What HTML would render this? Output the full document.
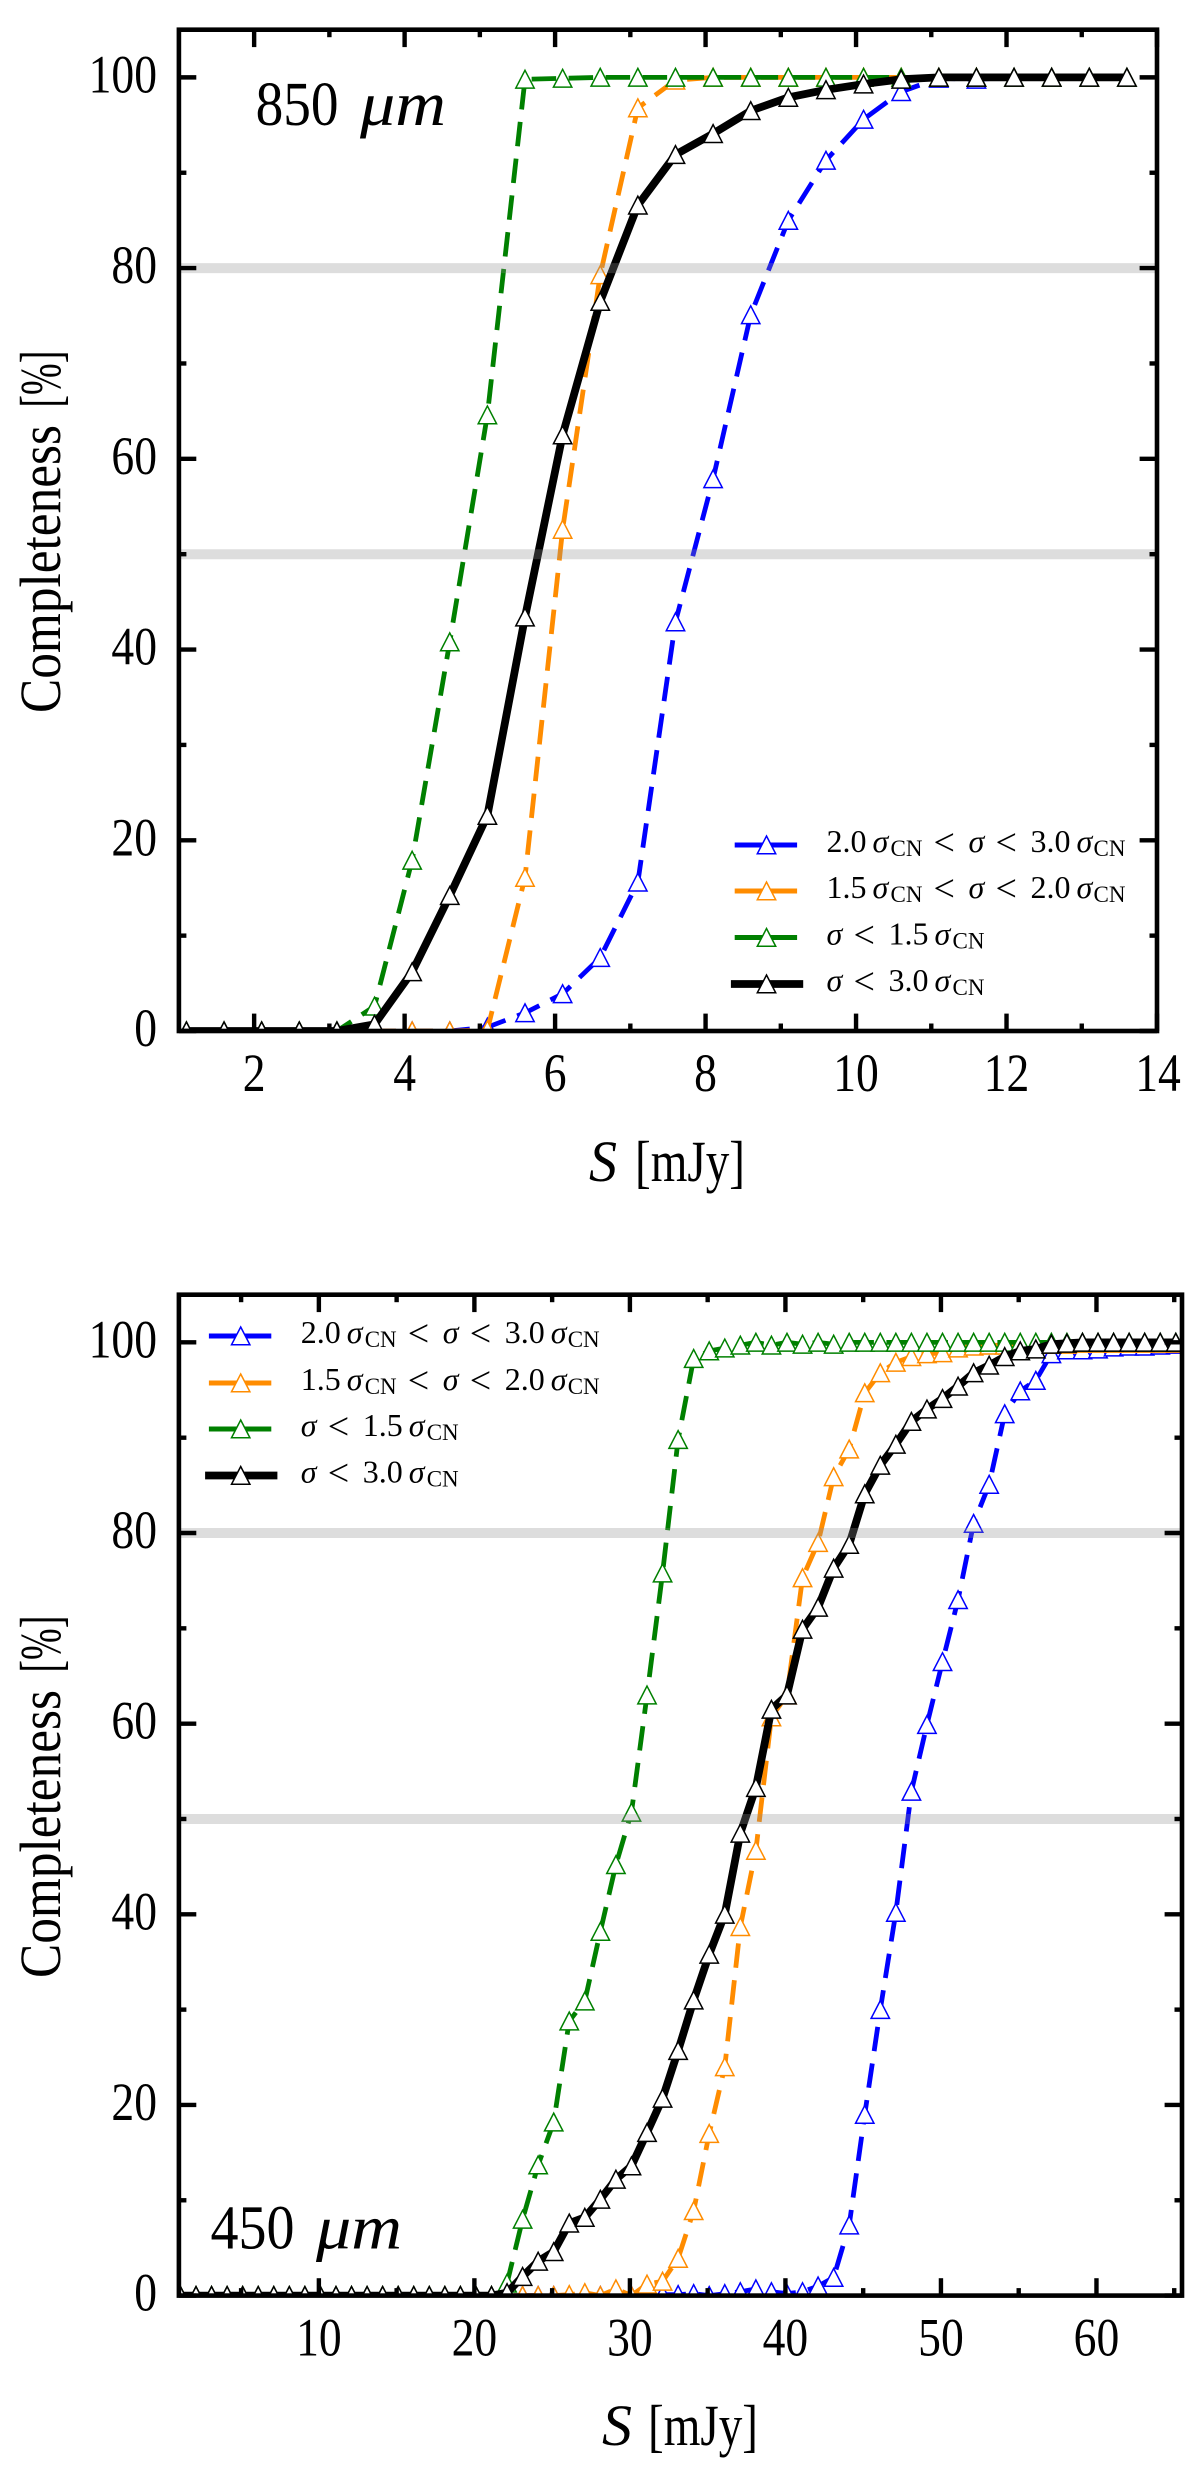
<!DOCTYPE html>
<html lang="en">
<head>
<meta charset="utf-8">
<title>Completeness curves at 850 and 450 micron</title>
<style>
html,body{margin:0;padding:0;background:#fff;}
svg{display:block;}
text{font-family:"Liberation Serif",serif;fill:#000;}
.it{font-style:italic;}
.lg{font-size:32px;}
.sub{font-size:23px;}
.lt{font-size:38px;}
</style>
</head>
<body>
<svg id="fig" xmlns="http://www.w3.org/2000/svg" width="1200" height="2471" viewBox="0 0 1200 2471">
  <defs>
    <clipPath id="clip-850"><rect x="178.9" y="29.7" width="978.1" height="1001.3"/></clipPath>
    <clipPath id="clip-450"><rect x="178.9" y="1294.7" width="1003.1" height="1000.9"/></clipPath>
  </defs>
  <rect x="0" y="0" width="1200" height="2471" fill="#fff"/>
  <g id="panel-850"></g>
  <g id="panel-450"></g>

  <!-- axis titles and annotations -->
  <text transform="translate(60,713) rotate(-90)" font-size="58" textLength="288" lengthAdjust="spacingAndGlyphs">Completeness</text>
  <text transform="translate(60,407.6) rotate(-90)" font-size="58" textLength="57" lengthAdjust="spacingAndGlyphs">[%]</text>
  <text x="589" y="1181" font-size="58" class="it" textLength="28" lengthAdjust="spacingAndGlyphs">S</text>
  <text x="635" y="1181" font-size="58" textLength="110" lengthAdjust="spacingAndGlyphs">[mJy]</text>
  <text x="255.6" y="125" font-size="62" textLength="83" lengthAdjust="spacingAndGlyphs">850</text>
  <text x="360" y="125" font-size="62" class="it" textLength="86" lengthAdjust="spacingAndGlyphs">μm</text>

  <text transform="translate(60,1978) rotate(-90)" font-size="58" textLength="288" lengthAdjust="spacingAndGlyphs">Completeness</text>
  <text transform="translate(60,1672.6) rotate(-90)" font-size="58" textLength="57" lengthAdjust="spacingAndGlyphs">[%]</text>
  <text x="602" y="2445" font-size="58" class="it" textLength="30" lengthAdjust="spacingAndGlyphs">S</text>
  <text x="648" y="2445" font-size="58" textLength="110" lengthAdjust="spacingAndGlyphs">[mJy]</text>
  <text x="210.5" y="2248.7" font-size="62" textLength="84" lengthAdjust="spacingAndGlyphs">450</text>
  <text x="316" y="2248.7" font-size="62" class="it" textLength="86" lengthAdjust="spacingAndGlyphs">μm</text>

  <!-- legend 850 -->
  <g>
    <g transform="translate(766.5,845)">
      <line x1="-31.8" x2="30.6" y1="0" y2="0" stroke="#0000ff" stroke-width="5"/>
      <polygon points="0,-9 9.2,8.8 -9.2,8.8" fill="#fff" stroke="#0000ff" stroke-width="1.5"/>
      <text class="lg" y="7"><tspan x="60">2.0 </tspan><tspan x="106" class="it">σ</tspan><tspan x="124" y="11" class="sub">CN </tspan><tspan x="167" y="10" class="lt">&lt; </tspan><tspan x="202" y="7" class="it">σ</tspan><tspan x="229" y="10" class="lt">&lt; </tspan><tspan x="264" y="7">3.0 </tspan><tspan x="310" class="it">σ</tspan><tspan x="327" y="11" class="sub">CN</tspan></text>
    </g>
    <g transform="translate(766.5,891)">
      <line x1="-31.8" x2="30.6" y1="0" y2="0" stroke="#ff8c00" stroke-width="5"/>
      <polygon points="0,-9 9.2,8.8 -9.2,8.8" fill="#fff" stroke="#ff8c00" stroke-width="1.5"/>
      <text class="lg" y="7"><tspan x="60">1.5 </tspan><tspan x="106" class="it">σ</tspan><tspan x="124" y="11" class="sub">CN </tspan><tspan x="167" y="10" class="lt">&lt; </tspan><tspan x="202" y="7" class="it">σ</tspan><tspan x="229" y="10" class="lt">&lt; </tspan><tspan x="264" y="7">2.0 </tspan><tspan x="310" class="it">σ</tspan><tspan x="327" y="11" class="sub">CN</tspan></text>
    </g>
    <g transform="translate(766.5,937.5)">
      <line x1="-31.8" x2="30.6" y1="0" y2="0" stroke="#008000" stroke-width="5"/>
      <polygon points="0,-9 9.2,8.8 -9.2,8.8" fill="#fff" stroke="#008000" stroke-width="1.5"/>
      <text class="lg" y="7"><tspan x="60" class="it">σ </tspan><tspan x="87" y="10" class="lt">&lt; </tspan><tspan x="122" y="7">1.5 </tspan><tspan x="168" class="it">σ</tspan><tspan x="186" y="11" class="sub">CN</tspan></text>
    </g>
    <g transform="translate(766.5,984)">
      <line x1="-35.6" x2="36.7" y1="0" y2="0" stroke="#000" stroke-width="7.8"/>
      <polygon points="0,-9 9.2,8.8 -9.2,8.8" fill="#fff" stroke="#000" stroke-width="1.5"/>
      <text class="lg" y="7"><tspan x="60" class="it">σ </tspan><tspan x="87" y="10" class="lt">&lt; </tspan><tspan x="122" y="7">3.0 </tspan><tspan x="168" class="it">σ</tspan><tspan x="186" y="11" class="sub">CN</tspan></text>
    </g>
  </g>

  <!-- legend 450 -->
  <g>
    <g transform="translate(240.7,1336)">
      <line x1="-31.8" x2="30.6" y1="0" y2="0" stroke="#0000ff" stroke-width="5"/>
      <polygon points="0,-9 9.2,8.8 -9.2,8.8" fill="#fff" stroke="#0000ff" stroke-width="1.5"/>
      <text class="lg" y="7"><tspan x="60">2.0 </tspan><tspan x="106" class="it">σ</tspan><tspan x="124" y="11" class="sub">CN </tspan><tspan x="167" y="10" class="lt">&lt; </tspan><tspan x="202" y="7" class="it">σ</tspan><tspan x="229" y="10" class="lt">&lt; </tspan><tspan x="264" y="7">3.0 </tspan><tspan x="310" class="it">σ</tspan><tspan x="327" y="11" class="sub">CN</tspan></text>
    </g>
    <g transform="translate(240.7,1383)">
      <line x1="-31.8" x2="30.6" y1="0" y2="0" stroke="#ff8c00" stroke-width="5"/>
      <polygon points="0,-9 9.2,8.8 -9.2,8.8" fill="#fff" stroke="#ff8c00" stroke-width="1.5"/>
      <text class="lg" y="7"><tspan x="60">1.5 </tspan><tspan x="106" class="it">σ</tspan><tspan x="124" y="11" class="sub">CN </tspan><tspan x="167" y="10" class="lt">&lt; </tspan><tspan x="202" y="7" class="it">σ</tspan><tspan x="229" y="10" class="lt">&lt; </tspan><tspan x="264" y="7">2.0 </tspan><tspan x="310" class="it">σ</tspan><tspan x="327" y="11" class="sub">CN</tspan></text>
    </g>
    <g transform="translate(240.7,1429)">
      <line x1="-31.8" x2="30.6" y1="0" y2="0" stroke="#008000" stroke-width="5"/>
      <polygon points="0,-9 9.2,8.8 -9.2,8.8" fill="#fff" stroke="#008000" stroke-width="1.5"/>
      <text class="lg" y="7"><tspan x="60" class="it">σ </tspan><tspan x="87" y="10" class="lt">&lt; </tspan><tspan x="122" y="7">1.5 </tspan><tspan x="168" class="it">σ</tspan><tspan x="186" y="11" class="sub">CN</tspan></text>
    </g>
    <g transform="translate(240.7,1475.5)">
      <line x1="-35.6" x2="36.7" y1="0" y2="0" stroke="#000" stroke-width="7.8"/>
      <polygon points="0,-9 9.2,8.8 -9.2,8.8" fill="#fff" stroke="#000" stroke-width="1.5"/>
      <text class="lg" y="7"><tspan x="60" class="it">σ </tspan><tspan x="87" y="10" class="lt">&lt; </tspan><tspan x="122" y="7">3.0 </tspan><tspan x="168" class="it">σ</tspan><tspan x="186" y="11" class="sub">CN</tspan></text>
    </g>
  </g>
</svg>

<script>
// ---- 850 micron data ----
const flux850 = [1.1,1.6,2.1,2.6,3.1,3.6,4.1,4.6,5.1,5.6,6.1,6.6,7.1,7.6,8.1,8.6,9.1,9.6,10.1,10.6,11.1,11.6,12.1,12.6,13.1,13.6];
const midNoise850 = [0,0,0,0,0,0,0,0,0.4,1.9,3.9,7.7,15.6,42.9,57.9,75.1,85.0,91.3,95.6,98.5,99.9,99.8,100,100,100,100];
const lowMidNoise850 = [0,0,0,0,0,0,0,0,0.1,16.1,52.6,79.3,96.8,99.7,100,100,100,100,100,100,100,100,100,100,100,100];
const lowNoise850 = [0,0,0,0,0,2.6,17.9,40.8,64.6,99.8,99.9,100,100,100,100,100,100,100,100,100,100,100,100,100,100,100];
const allNoise850 = [0,0,0,0,0,0.7,6.2,14.2,22.6,43.4,62.5,76.5,86.6,91.9,94.1,96.5,97.9,98.7,99.3,99.8,100,100,100,100,100,100];
const xMajor850 = [2,4,6,8,10,12,14];
const xMinor850 = [3,5,7,9,11,13];

// ---- 450 micron data ----
const flux450 = [1.1,2.1,3.1,4.1,5.1,6.1,7.1,8.1,9.1,10.1,11.1,12.1,13.1,14.1,15.1,16.1,17.1,18.1,19.1,20.1,21.1,22.1,23.1,24.1,25.1,26.1,27.1,28.1,29.1,30.1,31.1,32.1,33.1,34.1,35.1,36.1,37.1,38.1,39.1,40.1,41.1,42.1,43.1,44.1,45.1,46.1,47.1,48.1,49.1,50.1,51.1,52.1,53.1,54.1,55.1,56.1,57.1,58.1,59.1,60.1,61.1,62.1,63.1,64.1,65.1];
const midNoise450 = [0,0,0,0,0,0,0,0,0,0,0,0,0,0,0,0,0,0,0,0,0,0,0,0,0,0,0,0,0,0,0,0.1,0.1,0.2,0,0.2,0.4,0.7,0.4,0.2,0.4,1.0,1.9,7.4,19.0,30.0,40.2,52.9,59.9,66.5,73.0,81.0,85.1,92.5,94.9,96.0,98.8,99.2,99.2,99.3,99.5,99.6,99.6,99.7,99.8];
const lowMidNoise450 = [0,0,0,0,0,0,0,0,0,0,0,0,0,0,0,0,0,0,0,0,0,0,0,0,0,0.1,0.3,0,0.7,0,1.2,1.5,3.9,8.9,17.0,24.0,38.7,46.7,60.7,63.0,75.3,79.0,85.9,88.8,94.7,96.8,97.9,98.5,98.8,98.9,99.4,99.6,99.7,99.7,99.8,99.8,99.8,99.8,99.9,99.9,99.9,99.9,99.9,99.9,99.9];
const lowNoise450 = [0,0,0,0,0,0,0,0,0,0,0,0,0,0,0,0,0,0,0,0,0,1.3,8.0,13.7,18.2,28.8,30.9,38.2,45.2,50.7,63.0,75.8,89.8,98.3,99.1,99.4,99.7,100,99.7,100,99.8,100,99.8,100,100,100,100,100,100,100,100,100,100,100,100,100,100,100,100,100,100,100,100,100,100];
const allNoise450 = [0,0,0,0,0,0,0,0,0,0,0,0,0,0,0,0,0,0,0,0,0,0.3,2.0,3.6,4.6,7.6,8.2,10.1,12.2,13.6,17.1,20.7,25.7,31.0,35.8,40.0,48.5,53.3,61.5,63.0,69.9,72.2,76.3,78.8,84.1,87.1,89.3,91.7,93.0,94.1,95.4,96.8,97.6,98.5,99.1,99.3,99.8,99.9,100,100,100,100,100,100,100];
const xMajor450 = [10,20,30,40,50,60];
const xMinor450 = [5,15,25,35,45,55,65];

// ---- shared axis values ----
const yMajor = [0,20,40,60,80,100];
const yMinor = [10,30,50,70,90];
const referenceLevels = [50,80];
const seriesNames = ['mid-noise','low-mid-noise','low-noise','all-noise'];
const seriesColors = ['#0000ff','#ff8c00','#008000','#000000'];
const seriesWidths = [4.8,4.8,4.8,7.8];
const seriesDashes = ['24.5 12.5','24.5 12.5','24.5 12.5','none'];
const seriesDashOffsets = [0,0,4.7,0];

const SVG_NS = 'http://www.w3.org/2000/svg';

function axisX(panel, v) {
  return panel.left + (v - panel.xMin) / (panel.xMax - panel.xMin) * (panel.right - panel.left);
}
function axisY(panel, v) {
  return panel.bottom - (v - panel.yMin) / (panel.yMax - panel.yMin) * (panel.bottom - panel.top);
}

function drawTick(group, name, x1, y1, x2, y2) {
  const el = document.createElementNS(SVG_NS, 'line');
  
  
  el.setAttribute('x1', x1);
  el.setAttribute('y1', y1);
  el.setAttribute('x2', x2);
  el.setAttribute('y2', y2);
  el.setAttribute('stroke', '#000');
  el.setAttribute('stroke-width', 4.4);
  group.appendChild(el);
}

function drawTickLabel(group, name, text, x, y, anchor) {
  const el = document.createElementNS(SVG_NS, 'text');
  
  
  el.setAttribute('x', x);
  el.setAttribute('y', y);
  el.setAttribute('font-size', 54);
  el.setAttribute('text-anchor', anchor);
  el.setAttribute('textLength', String(text).length * 22.8);
  el.setAttribute('lengthAdjust', 'spacingAndGlyphs');
  el.textContent = text;
  group.appendChild(el);
}

function drawSeries(group, panel, name, xs, ys, color, width, dash, dashOffset) {
  const pts = xs.map((x, i) => axisX(panel, x).toFixed(2) + ',' + axisY(panel, ys[i]).toFixed(2));
  const line = document.createElementNS(SVG_NS, 'polyline');
  
  
  line.setAttribute('points', pts.join(' '));
  line.setAttribute('fill', 'none');
  line.setAttribute('stroke', color);
  line.setAttribute('stroke-width', width);
  line.setAttribute('stroke-linejoin', 'miter');
  if (dash !== 'none') {
    line.setAttribute('stroke-dasharray', dash);
    line.setAttribute('stroke-dashoffset', dashOffset);
  }
  group.appendChild(line);
  xs.forEach((x, i) => {
    const px = axisX(panel, x);
    const py = axisY(panel, ys[i]);
    const tri = document.createElementNS(SVG_NS, 'polygon');
    
    
    tri.setAttribute('points', px + ',' + (py - 9) + ' ' + (px + 9.2) + ',' + (py + 8.8) + ' ' + (px - 9.2) + ',' + (py + 8.8));
    tri.setAttribute('fill', '#fff');
    tri.setAttribute('stroke', color);
    tri.setAttribute('stroke-width', 1.5);
    group.appendChild(tri);
  });
}

function drawPanel(panel) {
  const root = document.getElementById(panel.id);

  const plot = document.createElementNS(SVG_NS, 'g');
  
  
  plot.setAttribute('clip-path', 'url(#' + panel.clip + ')');
  root.appendChild(plot);

  panel.series.forEach((ys, i) => {
    drawSeries(plot, panel, seriesNames[i], panel.xs, ys, seriesColors[i], seriesWidths[i], seriesDashes[i], seriesDashOffsets[i]);
  });

  referenceLevels.forEach(level => {
    const band = document.createElementNS(SVG_NS, 'line');
    
    
    band.setAttribute('x1', panel.left);
    band.setAttribute('x2', panel.right);
    band.setAttribute('y1', axisY(panel, level));
    band.setAttribute('y2', axisY(panel, level));
    band.setAttribute('stroke', '#8e8e8e');
    band.setAttribute('stroke-opacity', 0.3);
    band.setAttribute('stroke-width', 10);
    plot.appendChild(band);
  });

  const axes = document.createElementNS(SVG_NS, 'g');
  
  
  root.appendChild(axes);

  panel.xMajor.forEach(v => {
    const x = axisX(panel, v);
    drawTick(axes, 'x-major-tick', x, panel.bottom, x, panel.bottom - 17.4);
    drawTick(axes, 'x-major-tick-top', x, panel.top, x, panel.top + 17.4);
    const labelX = v === 14 ? x + 1 : x;
    drawTickLabel(axes, 'x-tick-label', v, labelX, panel.bottom + 60, 'middle');
  });
  panel.xMinor.forEach(v => {
    const x = axisX(panel, v);
    drawTick(axes, 'x-minor-tick', x, panel.bottom, x, panel.bottom - 7.5);
    drawTick(axes, 'x-minor-tick-top', x, panel.top, x, panel.top + 7.5);
  });
  yMajor.forEach(v => {
    const y = axisY(panel, v);
    drawTick(axes, 'y-major-tick', panel.left, y, panel.left + 17.4, y);
    drawTick(axes, 'y-major-tick-right', panel.right, y, panel.right - 17.4, y);
    drawTickLabel(axes, 'y-tick-label', v, 157, y + 15, 'end');
  });
  yMinor.forEach(v => {
    const y = axisY(panel, v);
    drawTick(axes, 'y-minor-tick', panel.left, y, panel.left + 7.5, y);
    drawTick(axes, 'y-minor-tick-right', panel.right, y, panel.right - 7.5, y);
  });

  const frame = document.createElementNS(SVG_NS, 'rect');
  
  
  frame.setAttribute('x', panel.left);
  frame.setAttribute('y', panel.top);
  frame.setAttribute('width', panel.right - panel.left);
  frame.setAttribute('height', panel.bottom - panel.top);
  frame.setAttribute('fill', 'none');
  frame.setAttribute('stroke', '#000');
  frame.setAttribute('stroke-width', 4.6);
  axes.appendChild(frame);
}

drawPanel({
  id: 'panel-850', clip: 'clip-850',
  left: 178.9, right: 1157, top: 29.7, bottom: 1031,
  xMin: 1, xMax: 14, yMin: 0, yMax: 105,
  xs: flux850,
  series: [midNoise850, lowMidNoise850, lowNoise850, allNoise850],
  xMajor: xMajor850, xMinor: xMinor850
});
drawPanel({
  id: 'panel-450', clip: 'clip-450',
  left: 178.9, right: 1182, top: 1294.7, bottom: 2295.6,
  xMin: 1, xMax: 65.5, yMin: 0, yMax: 105,
  xs: flux450,
  series: [midNoise450, lowMidNoise450, lowNoise450, allNoise450],
  xMajor: xMajor450, xMinor: xMinor450
});
</script>
</body>
</html>
